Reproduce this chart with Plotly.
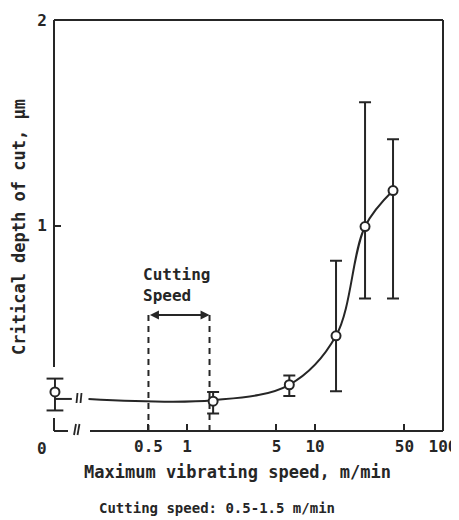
import plotly.graph_objects as go
import math

# ---------------- data ----------------
speed = [0.093, 1.6, 6.3, 14.6, 24.6, 40.7]          # max vibrating speed, m/min (first = "0")
depth = [0.19, 0.145, 0.225, 0.463, 0.995, 1.17]      # critical depth of cut, um
err_plus = [0.065, 0.045, 0.045, 0.365, 0.605, 0.25]
err_minus = [0.09, 0.06, 0.055, 0.27, 0.35, 0.525]

curve_left_x = [0.093, 0.126]
curve_left_y = [0.156, 0.156]
curve_x = [0.17, 1.6, 6.3, 14.6, 24.6, 40.7]
curve_y = [0.156, 0.15, 0.225, 0.463, 0.995, 1.17]

x_tickvals = [0.5, 1, 5, 10, 50, 100]
x_ticktext = ["0.5", "1", "5", "10", "50", "100"]
y_tickvals = [1, 2]
y_ticktext = ["1", "2"]
cut_lo, cut_hi = 0.5, 1.5
cut_top = 0.565

# ---------------- layout geometry ----------------
# page body has an 8px margin, so the figure starts at (8, 8) on screen
OFF = 8
W, H = 459 - OFF, 520 - OFF
BOX_L, BOX_R, BOX_T, BOX_B = 54, 443, 20, 431      # plot box, screen pixels
L, T = BOX_L - OFF, BOX_T - OFF
R, B = W - (BOX_R - OFF), H - (BOX_B - OFF)
PW, PH = BOX_R - BOX_L, BOX_B - BOX_T
X_LO, X_HI = -1.039, 2.0
INK = "#262626"
FONT = "DejaVu Sans Mono"

def px(x):   # screen pixel x -> paper
    return (x - BOX_L) / PW

def py(y):   # screen pixel y -> paper
    return (BOX_B - y) / PH

def xpaper(v):  # data x (log axis) -> x-domain fraction
    return (math.log10(v) - X_LO) / (X_HI - X_LO)

fig = go.Figure()

fig.add_trace(go.Scatter(x=curve_left_x, y=curve_left_y, mode="lines",
                         line=dict(color=INK, width=2), cliponaxis=False, showlegend=False))
fig.add_trace(go.Scatter(x=curve_x, y=curve_y, mode="lines",
                         line=dict(color=INK, width=2, shape="spline", smoothing=1.0),
                         showlegend=False))
# cutting-speed range dashed lines
for cx in (cut_lo, cut_hi):
    fig.add_trace(go.Scatter(x=[cx, cx], y=[0, cut_top], mode="lines", showlegend=False,
                             line=dict(color=INK, width=2, dash="6px,5px")))

# the "0" point sits on the left edge: draw its error bar by hand so caps are not clipped
x0, y0 = speed[0], depth[0]
hi0, lo0 = y0 + err_plus[0], y0 - err_minus[0]
fig.add_trace(go.Scatter(x=[x0, x0], y=[lo0, hi0], mode="lines", showlegend=False,
                         line=dict(color=INK, width=2)))
fig.add_trace(go.Scatter(x=[x0, x0], y=[lo0, hi0], mode="markers", cliponaxis=False,
                         showlegend=False,
                         marker=dict(symbol="line-ew", size=12,
                                     line=dict(color=INK, width=2))))

fig.add_trace(go.Scatter(
    x=speed[1:], y=depth[1:], mode="markers", showlegend=False,
    marker=dict(symbol="circle", size=9, color="white", line=dict(color=INK, width=2)),
    error_y=dict(type="data", symmetric=False, array=err_plus[1:], arrayminus=err_minus[1:],
                 color=INK, thickness=2, width=6),
))
fig.add_trace(go.Scatter(
    x=[x0], y=[y0], mode="markers", cliponaxis=False, showlegend=False,
    marker=dict(symbol="circle", size=9, color="white", line=dict(color=INK, width=2)),
))

shapes = []
def seg(xa, ya, xb, yb, w=2):
    shapes.append(dict(type="line", xref="paper", yref="paper", x0=xa, y0=ya, x1=xb, y1=yb,
                       line=dict(color=INK, width=w)))

# frame
seg(0, 1, 1, 1)
seg(1, 0, 1, 1)
seg(0, 1, 0, py(367))
seg(0, 0, 0, py(418))
seg(0, 0, px(68), 0)
seg(px(90), 0, 1, 0)
# break marks on axis
for bx in (75, 78.5):
    seg(px(bx - 1), py(435), px(bx + 1), py(424), w=1.8)
# break marks on curve
for bx in (77, 81):
    seg(px(bx - 0.5), py(403), px(bx + 0.5), py(393), w=1.8)
fig.update_layout(shapes=shapes)

bold = lambda s: dict(family=FONT, size=s, color=INK, weight="bold")

ann = []
ann.append(dict(xref="x domain", yref="y", x=xpaper(cut_hi), y=cut_top,
                ax=xpaper(cut_lo), ay=cut_top, axref="x domain", ayref="y",
                showarrow=True, arrowhead=2, arrowside="end+start", arrowsize=0.9,
                arrowwidth=2, arrowcolor=INK, text="", standoff=0, startstandoff=0))
ann.append(dict(xref="x domain", yref="y", x=xpaper(cut_lo), y=cut_top, xanchor="left",
                yanchor="bottom", xshift=-7, yshift=8, showarrow=False, align="left",
                text="Cutting<br>Speed", font=bold(16)))
ann.append(dict(xref="paper", yref="paper", x=px(42), y=py(448), xanchor="center",
                yanchor="middle", showarrow=False, text="0", font=bold(16)))
ann.append(dict(xref="paper", yref="paper", x=px(237), y=py(472), xanchor="center",
                yanchor="middle", showarrow=False,
                text="Maximum vibrating speed, m/min", font=bold(17)))
ann.append(dict(xref="paper", yref="paper", x=px(217), y=py(508), xanchor="center",
                yanchor="middle", showarrow=False,
                text="Cutting speed: 0.5-1.5 m/min", font=bold(14)))
ann.append(dict(xref="paper", yref="paper", x=px(19), y=py(227), xanchor="center",
                yanchor="middle", showarrow=False, textangle=-90,
                text="Critical depth of cut, μm", font=bold(17)))
fig.update_layout(annotations=ann)

fig.update_xaxes(type="log", range=[X_LO, X_HI], showgrid=False, zeroline=False,
                 showline=False, automargin=False, ticks="inside", ticklen=7, tickwidth=2,
                 tickcolor=INK, tickvals=x_tickvals, ticktext=x_ticktext,
                 ticklabelstandoff=4, tickfont=bold(16))
fig.update_yaxes(range=[0, 2], showgrid=False, zeroline=False, showline=False,
                 automargin=False, ticks="inside", ticklen=7, tickwidth=2, tickcolor=INK,
                 tickvals=y_tickvals, ticktext=y_ticktext, ticklabelstandoff=6,
                 tickfont=bold(16))

fig.update_layout(width=W, height=H, margin=dict(l=L, r=R, t=T, b=B, pad=0),
                  paper_bgcolor="white", plot_bgcolor="white", showlegend=False)

fig.write_html("out.html")
